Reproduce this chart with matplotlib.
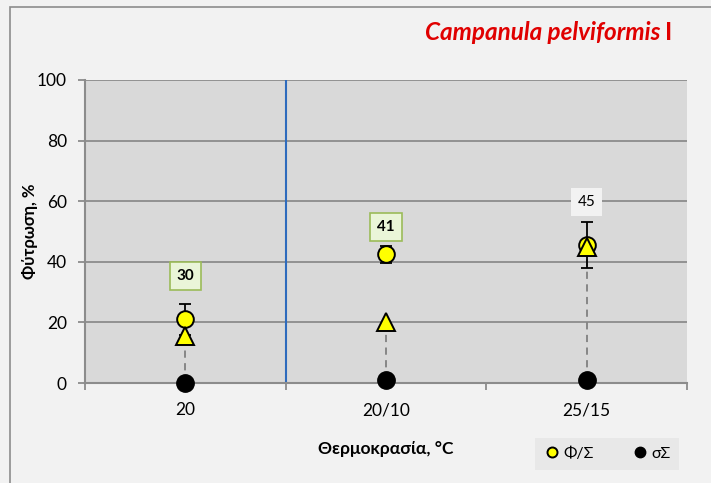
import matplotlib.pyplot as plt
from matplotlib.patches import Rectangle

plt.rcParams['font.family'] = ['Lato', 'Noto Sans', 'DejaVu Sans']

temps = ["20", "20/10", "25/15"]
germ = [21, 42.5, 45.5]          # Φ/Σ
germ_err = [5, 2.8, 7.5]
tri = [15.5, 20, 45]
sigma = [0, 1, 1]                # σΣ
box_vals = [30, 41, 45]
box_y = [35.3, 51.5, 59.7]

x = list(range(len(temps)))

fig = plt.figure(figsize=(7.11, 4.83), dpi=100, facecolor="#f2f2f2")
# outer frame
fig.patches.append(Rectangle((10 / 711, -0.1), 1.2, 1.1 - 7 / 483, transform=fig.transFigure,
                             fill=False, edgecolor="#8c8c8c", lw=1.2, zorder=0))

ax = fig.add_axes([85 / 711, 100 / 483, 602 / 711, 303 / 483])
ax.set_facecolor("#d9d9d9")
ax.set_xlim(-0.5, 2.5)
ax.set_ylim(0, 100)

for s in ["top", "right"]:
    ax.spines[s].set_visible(False)
for s in ["left", "bottom"]:
    ax.spines[s].set_color("#8c8c8c")
    ax.spines[s].set_linewidth(1.5)

ax.set_yticks(range(0, 101, 20))
ax.yaxis.grid(True, color="#8c8c8c", lw=1.3)
ax.set_axisbelow(True)
ax.tick_params(axis="y", length=5, color="#8c8c8c", width=1.3, labelsize=12.5, pad=8)

# category boundaries as x ticks, names as minor ticks
ax.set_xticks([-0.5, 0.5, 1.5, 2.5])
ax.set_xticklabels([])
ax.set_xticks(x, minor=True)
ax.set_xticklabels(temps, minor=True)
ax.tick_params(axis="x", which="major", length=5, color="#8c8c8c", width=1.3)
ax.tick_params(axis="x", which="minor", length=0, labelsize=12.5, pad=14)
ax.get_xticklines()[2].set_color("#2e6bbd")

ax.axvline(0.5, color="#2e6bbd", lw=1.5, zorder=1)

# dashed connectors between σΣ and triangles
ax.vlines(x, sigma, tri, colors="#808080", linestyles=(0, (4, 3)), lw=1.3, zorder=2)

ax.errorbar(x, germ, yerr=germ_err, fmt="none", ecolor="black", elinewidth=1.3,
            capsize=4, capthick=1.3, zorder=3)
ax.plot(x, germ, "o", ms=12, mfc="#ffff00", mec="black", mew=1.4, zorder=4, label="Φ/Σ")
ax.plot(x, tri, "^", ms=13, mfc="#ffff00", mec="black", mew=1.4, zorder=5)
ax.plot(x, sigma, "o", ms=12.5, mfc="black", mec="black", zorder=6, clip_on=False, label="σΣ")

for i, (v, yb) in enumerate(zip(box_vals, box_y)):
    if i < 2:
        ax.text(x[i], yb, str(v), ha="center", va="center", fontsize=11, fontweight="bold",
                bbox=dict(boxstyle="square,pad=0.45", fc="#eaf5d8", ec="#9bbb59", lw=1.2), zorder=7)
    else:
        ax.text(x[i], yb, str(v), ha="center", va="center", fontsize=11,
                bbox=dict(boxstyle="square,pad=0.45", fc="#f2f2f2", ec="none"), zorder=7)

ax.set_ylabel("Φύτρωση, %", fontsize=12, fontweight="bold")
ax.yaxis.set_label_coords(-0.078, 0.5)
ax.set_xlabel("Θερμοκρασία, °C", fontsize=12.5, fontweight="bold", labelpad=16)

fig.text(0.946, 0.933, "I", color="#e00000", fontsize=17.5, fontweight="bold", ha="right", va="center")
fig.text(0.929, 0.933, "Campanula pelviformis", color="#e00000", fontsize=17.5, fontweight="bold",
         style="italic", ha="right", va="center")

leg = ax.legend(loc="upper right", bbox_to_anchor=(1.0, -0.155), ncol=2, frameon=True,
                fancybox=False, fontsize=11.5, markerscale=0.6, handlelength=1.0,
                handletextpad=0.2, columnspacing=2.4, borderpad=0.55)
leg.get_frame().set_facecolor("#e6e6e6")
leg.get_frame().set_edgecolor("none")

fig.savefig("out.png", dpi=100, facecolor=fig.get_facecolor())
